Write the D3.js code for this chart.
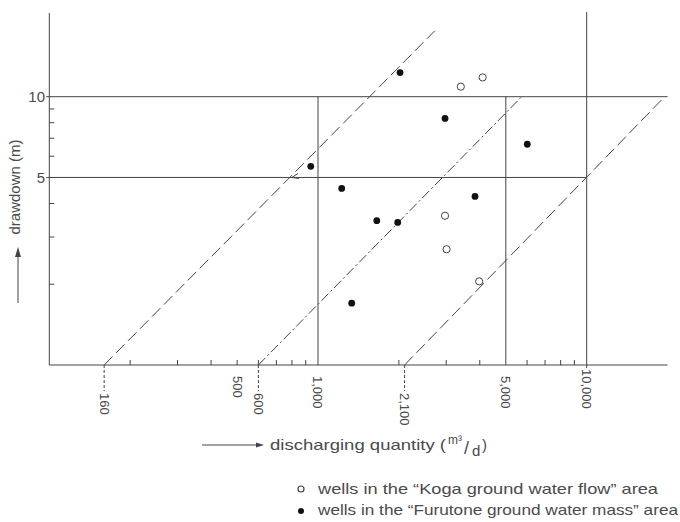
<!DOCTYPE html>
<html>
<head>
<meta charset="utf-8">
<script src="https://cdn.jsdelivr.net/npm/d3@7"></script>
<style>
  html, body { margin: 0; padding: 0; background: #fff; }
  svg { display: block; }
  text { font-family: "Liberation Sans", Arial, sans-serif; fill: #4a4a4a; }
</style>
</head>
<body>
<svg id="chart" width="680" height="522"></svg>
<script>
// Wells: discharging quantity (m3/d) vs drawdown (m)
const kogaQ = [3400, 4100, 2970, 3010, 3980];
const kogaS = [10.9, 11.8, 3.6, 2.7, 2.05];

const furutoneQ = [940, 2020, 2970, 6010, 1225, 3840, 1655, 1980, 1335];
const furutoneS = [5.5, 12.3, 8.3, 6.65, 4.55, 4.25, 3.45, 3.4, 1.7];

// Specific-capacity guide lines (start at 1 m drawdown)
const guideLabels = ["160", "600", "2,100"];
const guideStartQ = [160, 600, 2100];
const guideEndQ = [2720, 5730, 19500];
const guideEndS = [17.6, 10, 10];
const guideDash = ["12,5", "10,3,2,3", "12,5"];

// Axis ticks
const xLabelValues = [500, 1000, 5000, 10000];
const xLabelTexts = ["500", "1,000", "5,000", "10,000"];
const xMinorTicks = [200, 300, 400, 500, 600, 700, 800, 900, 2000, 3000, 4000, 6000, 7000, 8000, 9000];
const yLabelValues = [10, 5];
const yLabelTexts = ["10", "5"];
const yMinorTicks = [2, 3, 4, 6, 7, 8, 9];

const legendLabels = [
  "wells in the \u201CKoga ground water flow\u201D area",
  "wells in the \u201CFurutone ground water mass\u201D area"
];

const svg = d3.select("#chart");
const ink = "#444";

const x = d3.scaleLog().domain([1000, 10000]).range([318, 586.7]);
const y = d3.scaleLog().domain([1, 10]).range([365, 96.7]);
const xMin = 100, xMax = 20000, yMax = 20.5;

const g = svg.append("g").attr("stroke", ink).attr("stroke-width", 1).attr("fill", "none");

// Axes frame
g.append("line").attr("x1", x(xMin)).attr("x2", x(xMax)).attr("y1", y(1)).attr("y2", y(1));
g.append("line").attr("x1", x(xMin)).attr("x2", x(xMin)).attr("y1", y(1)).attr("y2", y(yMax));

// Horizontal reference lines at 10 m and 5 m
g.append("line").attr("x1", x(xMin) - 3).attr("x2", x(xMax)).attr("y1", y(10)).attr("y2", y(10));
g.append("line").attr("x1", x(xMin) - 3).attr("x2", x(10000)).attr("y1", y(5)).attr("y2", y(5));

// Vertical reference lines
g.append("line").attr("x1", x(1000)).attr("x2", x(1000)).attr("y1", y(10)).attr("y2", y(1));
g.append("line").attr("x1", x(5000)).attr("x2", x(5000)).attr("y1", y(10)).attr("y2", y(1));
g.append("line").attr("x1", x(10000)).attr("x2", x(10000)).attr("y1", y(yMax) - 1).attr("y2", y(1) + 3);

// Minor ticks
g.selectAll(".xminor").data(xMinorTicks).join("line")
  .attr("x1", d => x(d)).attr("x2", d => x(d))
  .attr("y1", y(1)).attr("y2", y(1) - 5);
g.selectAll(".yminor").data(yMinorTicks).join("line")
  .attr("x1", x(xMin)).attr("x2", x(xMin) + 5)
  .attr("y1", d => y(d)).attr("y2", d => y(d));

// Guide lines
guideStartQ.forEach((q, i) => {
  g.append("line")
    .attr("x1", x(q)).attr("y1", y(1))
    .attr("x2", x(guideEndQ[i])).attr("y2", y(guideEndS[i]))
    .attr("stroke-dasharray", guideDash[i]);
  // dashed leader below the axis
  g.append("line")
    .attr("x1", x(q)).attr("x2", x(q))
    .attr("y1", y(1)).attr("y2", y(1) + 26)
    .attr("stroke-dasharray", "3,2");
});

// Small arrow mark where the first guide meets 5 m
const ax = x(800), ay = y(5);
g.append("path").attr("d", `M${ax + 6},${ay - 4} L${ax},${ay} L${ax + 7},${ay + 1}`);

// X tick labels (rotated)
const xText = svg.append("g").attr("font-size", 13);
xLabelValues.forEach((v, i) => {
  const ty = v === 10000 ? 369 : 376;
  xText.append("text")
    .attr("transform", `translate(${x(v)},${ty}) rotate(90)`)
    .attr("dy", "0.35em")
    .text(xLabelTexts[i]);
});
guideStartQ.forEach((q, i) => {
  xText.append("text")
    .attr("transform", `translate(${x(q)},${y(1) + 28}) rotate(90)`)
    .attr("dy", "0.35em")
    .text(guideLabels[i]);
});

// Y tick labels
yLabelValues.forEach((v, i) => {
  svg.append("text")
    .attr("x", 45).attr("y", y(v))
    .attr("dy", "0.35em")
    .attr("text-anchor", "end")
    .attr("font-size", 15)
    .text(yLabelTexts[i]);
});

// Y axis title with arrow
svg.append("text")
  .attr("transform", "translate(15,187) rotate(-90)")
  .attr("dy", "0.35em")
  .attr("text-anchor", "middle")
  .attr("font-size", 15)
  .text("drawdown (m)");
svg.append("line").attr("x1", 18).attr("x2", 18).attr("y1", 303).attr("y2", 254)
  .attr("stroke", ink).attr("stroke-width", 1);
svg.append("path").attr("d", "M18,247 L15,257 L21,257 Z").attr("fill", ink);

// X axis title with arrow
svg.append("line").attr("x1", 202).attr("x2", 258).attr("y1", 445).attr("y2", 445)
  .attr("stroke", ink).attr("stroke-width", 1);
svg.append("path").attr("d", "M264,445 L256,442.5 L256,447.5 Z").attr("fill", ink);
svg.append("text").attr("x", 270).attr("y", 450).attr("font-size", 15)
  .attr("textLength", 176).attr("lengthAdjust", "spacingAndGlyphs")
  .text("discharging quantity (");
svg.append("text").attr("x", 448).attr("y", 444).attr("font-size", 12).text("m\u00B3");
svg.append("text").attr("x", 464).attr("y", 454).attr("font-size", 18).text("/");
svg.append("text").attr("x", 472).attr("y", 456).attr("font-size", 15).text("d");
svg.append("text").attr("x", 482).attr("y", 450).attr("font-size", 15).text(")");

// Data points
svg.append("g").selectAll("circle").data(d3.range(kogaQ.length)).join("circle")
  .attr("cx", i => x(kogaQ[i])).attr("cy", i => y(kogaS[i])).attr("r", 3.6)
  .attr("fill", "#fff").attr("stroke", ink).attr("stroke-width", 1);
svg.append("g").selectAll("circle").data(d3.range(furutoneQ.length)).join("circle")
  .attr("cx", i => x(furutoneQ[i])).attr("cy", i => y(furutoneS[i])).attr("r", 3.4)
  .attr("fill", "#111");

// Legend
const legendY = [489, 510];
const legendLen = [340, 360];
svg.append("circle").attr("cx", 301).attr("cy", legendY[0]).attr("r", 3)
  .attr("fill", "#fff").attr("stroke", ink).attr("stroke-width", 1.2);
svg.append("circle").attr("cx", 301).attr("cy", legendY[1] + 1).attr("r", 3).attr("fill", "#111");
legendLabels.forEach((t, i) => {
  svg.append("text").attr("x", 318).attr("y", legendY[i] + 5)
    .attr("font-size", 15)
    .attr("textLength", legendLen[i]).attr("lengthAdjust", "spacingAndGlyphs")
    .text(t);
});
</script>
</body>
</html>
